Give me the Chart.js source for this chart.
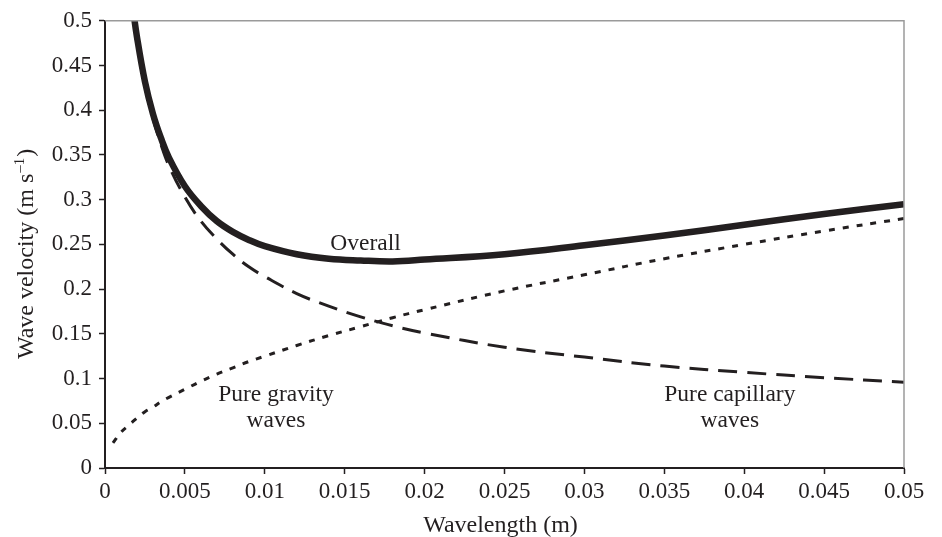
<!DOCTYPE html>
<html>
<head>
<meta charset="utf-8">
<script src="https://cdn.jsdelivr.net/npm/chart.js@4/dist/chart.umd.min.js"></script>
<style>
html,body{margin:0;padding:0;background:#fff;}
#wrap{position:relative;width:942px;height:537px;}
</style>
</head>
<body>
<div id="wrap"><canvas id="c" width="942" height="537"></canvas></div>
<script>
// ---- data ----
const wavelength = [0.0005, 0.001, 0.0015, 0.00175, 0.002, 0.0025, 0.003, 0.0035, 0.004, 0.005, 0.006, 0.007, 0.008, 0.009, 0.010, 0.012, 0.014, 0.016, 0.018, 0.020, 0.025, 0.030, 0.035, 0.040, 0.045, 0.050];
const overallVelocity = [null, null, 0.554, 0.514, 0.482, 0.432, 0.396, 0.369, 0.347, 0.315, 0.293, 0.276, 0.264, 0.255, 0.248, 0.239, 0.234, 0.232, 0.231, 0.233, 0.239, 0.249, 0.260, 0.272, 0.284, 0.295];
const gravityVelocity = [0.028, 0.040, 0.048, 0.052, 0.056, 0.063, 0.068, 0.074, 0.079, 0.088, 0.097, 0.105, 0.112, 0.119, 0.125, 0.137, 0.148, 0.158, 0.168, 0.177, 0.198, 0.216, 0.234, 0.250, 0.265, 0.279];
const capillaryVelocity = [null, null, 0.552, 0.511, 0.478, 0.428, 0.391, 0.362, 0.338, 0.303, 0.276, 0.256, 0.239, 0.225, 0.214, 0.195, 0.181, 0.169, 0.159, 0.151, 0.135, 0.124, 0.114, 0.107, 0.101, 0.096];
const xTickLabels = ['0', '0.005', '0.01', '0.015', '0.02', '0.025', '0.03', '0.035', '0.04', '0.045', '0.05'];
const yTickLabels = ['0', '0.05', '0.1', '0.15', '0.2', '0.25', '0.3', '0.35', '0.4', '0.45', '0.5'];
const xTitle = 'Wavelength (m)';
const yTitle = ['Wave velocity (m s', '\u20131', ')'];
const annotations = [
  { lines: ['Overall'], x: 0.0163, y: 0.251 },
  { lines: ['Pure gravity', 'waves'], x: 0.0107, y: 0.0815 },
  { lines: ['Pure capillary', 'waves'], x: 0.0391, y: 0.0815 }
];

const INK = '#231f20';
const FONT = '"Liberation Serif", "Times New Roman", serif';
const toPts = arr => wavelength.map((x, i) => ({ x: x, y: arr[i] }));

const framePlugin = {
  id: 'frame',
  afterDatasetsDraw(chart) {
    const { ctx, chartArea: a, scales } = chart;
    ctx.save();
    // top & right gray frame
    ctx.strokeStyle = '#9a9a9a';
    ctx.lineWidth = 1.5;
    ctx.beginPath();
    ctx.moveTo(a.left, a.top);
    ctx.lineTo(a.right, a.top);
    ctx.lineTo(a.right, a.bottom);
    ctx.stroke();
    // annotations
    ctx.fillStyle = INK;
    ctx.font = '23.5px ' + FONT;
    ctx.textAlign = 'center';
    ctx.textBaseline = 'middle';
    annotations.forEach(an => {
      const px = scales.x.getPixelForValue(an.x);
      const py = scales.y.getPixelForValue(an.y);
      an.lines.forEach((t, i) => ctx.fillText(t, px, py + i * 26));
    });
    // x-axis title
    ctx.font = '24px ' + FONT;
    ctx.textBaseline = 'alphabetic';
    ctx.fillText(xTitle, (a.left + a.right) / 2 - 4, 532);
    // y-axis title (rotated, with superscript)
    const big = '24px ' + FONT, small = '15px ' + FONT;
    ctx.font = big; const w1 = ctx.measureText(yTitle[0]).width; const w3 = ctx.measureText(yTitle[2]).width;
    ctx.font = small; const w2 = ctx.measureText(yTitle[1]).width + 1;
    const total = w1 + w2 + w3;
    ctx.translate(33, (a.top + a.bottom) / 2 + 10);
    ctx.rotate(-Math.PI / 2);
    ctx.textAlign = 'left';
    let u = -total / 2;
    ctx.font = big; ctx.fillText(yTitle[0], u, 0); u += w1 + 1;
    ctx.font = small; ctx.fillText(yTitle[1], u, -9); u += w2;
    ctx.font = big; ctx.fillText(yTitle[2], u, 0);
    ctx.restore();
  }
};

new Chart(document.getElementById('c'), {
  type: 'line',
  data: {
    datasets: [
      { label: 'Overall', data: toPts(overallVelocity), borderColor: INK, borderWidth: 6.5, pointRadius: 0, tension: 0.4, fill: false, order: 0, clip: 0 },
      { label: 'Pure capillary', data: toPts(capillaryVelocity), borderColor: INK, borderWidth: 3, borderDash: [19, 10], pointRadius: 0, tension: 0.4, fill: false, order: 1, clip: 0 },
      { label: 'Pure gravity', data: toPts(gravityVelocity), borderColor: INK, borderWidth: 3, borderDash: [6, 8], pointRadius: 0, tension: 0.4, fill: false, order: 2, clip: 0 }
    ]
  },
  options: {
    responsive: false,
    animation: false,
    devicePixelRatio: 1,
    layout: { padding: { left: 0, right: 38, top: 14, bottom: 0 } },
    plugins: { legend: { display: false }, tooltip: { enabled: false } },
    scales: {
      x: {
        type: 'linear', min: 0, max: 0.05,
        afterFit(s) { s.height = 69; },
        afterBuildTicks(s) { s.ticks = xTickLabels.map((_, i) => ({ value: i * 0.005 })); },
        ticks: { autoSkip: false, maxRotation: 0, color: INK, font: { family: FONT, size: 23 }, padding: 4,
          callback: (v, i) => xTickLabels[i] },
        grid: { drawOnChartArea: false, drawTicks: true, tickLength: 6, tickColor: INK, tickWidth: 1.5 },
        border: { color: INK, width: 2 },
        title: { display: false }
      },
      y: {
        type: 'linear', min: 0, max: 0.5,
        afterFit(s) { s.width = 105; },
        afterBuildTicks(s) { s.ticks = yTickLabels.map((_, i) => ({ value: i * 0.05 })); },
        ticks: { autoSkip: false, color: INK, font: { family: FONT, size: 23 }, padding: 7,
          callback: (v, i) => yTickLabels[i] },
        grid: { drawOnChartArea: false, drawTicks: true, tickLength: 6, tickColor: INK, tickWidth: 1.5 },
        border: { color: INK, width: 2 },
        title: { display: false }
      }
    }
  },
  plugins: [framePlugin]
});
</script>
</body>
</html>
